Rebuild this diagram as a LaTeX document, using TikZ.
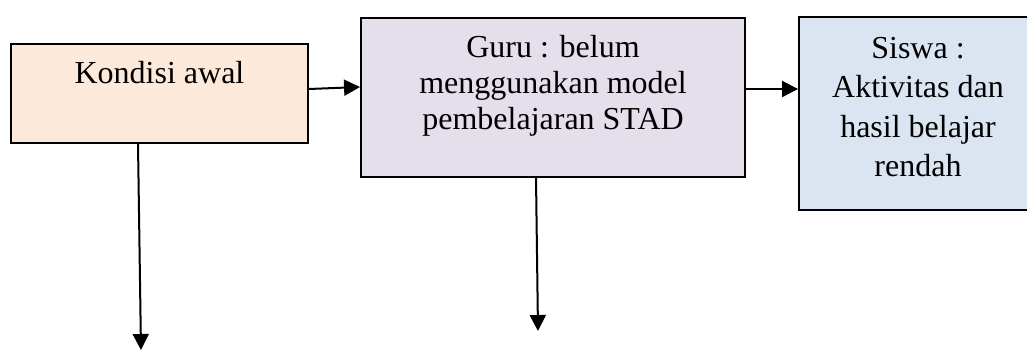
\documentclass[tikz,border=0pt]{standalone}
\usepackage{fontspec}
\setmainfont{Liberation Serif}
\usetikzlibrary{arrows.meta}

\definecolor{peach}{HTML}{FCE9DA}
\definecolor{lilac}{HTML}{E5DFEC}
\definecolor{paleblue}{HTML}{DBE5F1}

\tikzset{
  box/.style={draw=black, line width=1.9pt, inner sep=0pt, rectangle},
  label text/.style={inner sep=0pt, align=center,
    font=\fontsize{32}{36}\selectfont},
  flow/.style={line width=2pt, -{Triangle[length=16pt,width=16pt]}}
}

\begin{document}
\begin{tikzpicture}[x=1pt, y=-1pt]
  \clip (0,0) rectangle (1027,349);
  \fill[white] (0,0) rectangle (1027,349);

  % boxes
  \node[box, fill=peach, minimum width=297pt, minimum height=99pt] (b1) at (159.5,93.5) {};
  \node[box, fill=lilac, minimum width=384pt, minimum height=159pt] (b2) at (553,97.5) {};
  \node[box, fill=paleblue, minimum width=238pt, minimum height=193pt] (b3) at (918,113.5) {};

  % box texts
  \node[label text, anchor=base] (t1) at (159.5,83) {Kondisi awal};
  \node[label text, anchor=north] (t2) at (553,32)
    {\rule{0pt}{25pt}Guru : belum\\menggunakan model\\pembelajaran STAD};
  \node[label text, anchor=north, font=\fontsize{32}{39.5}\selectfont] (t3) at (918,33)
    {\rule{0pt}{25pt}Siswa :\\Aktivitas dan\\hasil belajar\\rendah};

  % free ends of the downward arrows
  \coordinate (e1) at (141,350);
  \coordinate (e2) at (538,331);

  % connectors
  \draw[flow] ([yshift=4.5pt]b1.east) -- ([yshift=10.5pt]b2.west);
  \draw[flow] ([yshift=8.5pt]b2.east) -- ([yshift=24.5pt]b3.west);
  \draw[flow] ([xshift=-21.5pt]b1.south) -- (e1);
  \draw[flow] ([xshift=-17pt]b2.south) -- (e2);
\end{tikzpicture}
\end{document}
